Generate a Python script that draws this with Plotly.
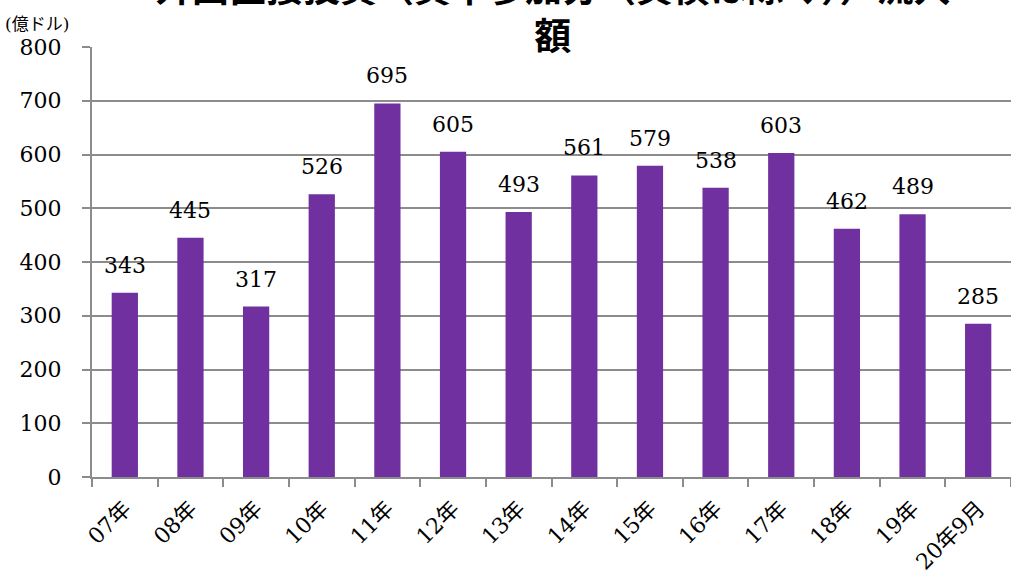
import plotly.graph_objects as go

categories = ["07年", "08年", "09年", "10年", "11年", "12年", "13年", "14年",
              "15年", "16年", "17年", "18年", "19年", "20年9月"]
values = [343, 445, 317, 526, 695, 605, 493, 561, 579, 538, 603, 462, 489, 285]
y_ticks = [0, 100, 200, 300, 400, 500, 600, 700, 800]
title_line1 = "外国直接投資（資本参加分（負債は除く））流入"
title_line2 = "額"
unit_label = "(億ドル)"

W, H = 1011, 581
L, R, T, B = 92, 0, 47, 104
pw, ph = W - L - R, H - T - B

def px_to_paper_y(py):
    return (H - B - py) / ph

def px_to_paper_x(px):
    return (px - L) / pw

serif = "DejaVu Serif, Noto Sans CJK JP, serif"
grid_col = "#8c8c8c"

fig = go.Figure()
fig.add_trace(go.Bar(
    x=categories, y=values,
    marker=dict(color="#7030A0", line=dict(width=0)),
    width=0.4,
    hoverinfo="x+y",
))

annotations = []
for c, v in zip(categories, values):
    annotations.append(dict(
        x=c, y=v, xref="x", yref="y", text=str(v), showarrow=False,
        yanchor="bottom", yshift=13, font=dict(family=serif, size=22, color="black"),
    ))

annotations.append(dict(
    x=px_to_paper_x(553), y=px_to_paper_y(10), xref="paper", yref="paper",
    text=title_line1 + "<br>" + title_line2, showarrow=False,
    xanchor="center", yanchor="middle", align="center",
    font=dict(family="Noto Sans CJK JP", size=37, color="black", weight="bold"),
))
annotations.append(dict(
    x=px_to_paper_x(3), y=px_to_paper_y(24), xref="paper", yref="paper",
    text=unit_label, showarrow=False, xanchor="left", yanchor="middle",
    font=dict(family=serif, size=17, color="black"),
))

fig.update_layout(
    width=W, height=H,
    margin=dict(l=L, r=R, t=T, b=B, autoexpand=False),
    paper_bgcolor="white", plot_bgcolor="white",
    showlegend=False,
    annotations=annotations,
    xaxis=dict(
        type="category", range=[-0.5, len(categories) - 0.5],
        showgrid=False, showline=True, linecolor=grid_col, linewidth=2,
        ticks="outside", tickson="boundaries", ticklen=8, tickwidth=2, tickcolor=grid_col,
        tickangle=-45, tickfont=dict(family=serif, size=22, color="black"),
        ticklabelstandoff=8,
        automargin=False, zeroline=False,
    ),
    yaxis=dict(
        range=[0, 800], tickvals=y_ticks, ticktext=[str(t) for t in y_ticks],
        showgrid=True, gridcolor=grid_col, gridwidth=1.5,
        showline=True, linecolor=grid_col, linewidth=2,
        ticks="outside", ticklen=8, tickwidth=1.5, tickcolor=grid_col,
        tickfont=dict(family=serif, size=22, color="black"),
        ticklabelstandoff=16,
        automargin=False, zeroline=False,
    ),
)

fig.write_html("out.html", config={"displayModeBar": False},
               post_script="document.body.style.margin='0';")
